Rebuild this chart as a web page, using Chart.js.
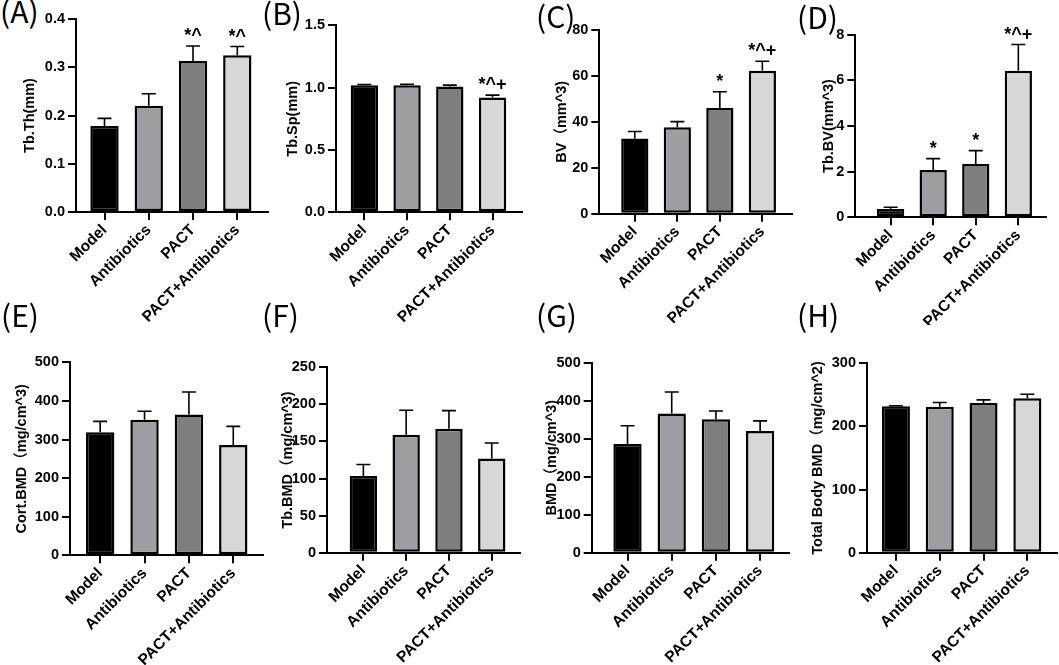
<!DOCTYPE html>
<html>
<head>
<meta charset="utf-8">
<script src="https://cdn.jsdelivr.net/npm/chart.js@4.4.1/dist/chart.umd.min.js"></script>
<style>
  html, body { margin: 0; padding: 0; background: #fff; }
  #fig { position: relative; width: 1059px; height: 665px; overflow: hidden; }
  .panel { position: absolute; }
  .tag { position: absolute; font: 400 30px 'Noto Sans CJK SC', sans-serif; line-height: 30px; color: #000; white-space: nowrap; }
</style>
</head>
<body>
<div id="fig"></div>
<script>
// groups (same order in every panel)
const categories = ['Model', 'Antibiotics', 'PACT', 'PACT+Antibiotics'];

// (A) Tb.Th
const tbTh = [0.178, 0.220, 0.313, 0.325];
const tbThErr = [0.016, 0.025, 0.031, 0.018];
const tbThMarks = ['', '', '*^', '*^'];
const tbThTicks = [0, 0.1, 0.2, 0.3, 0.4];

// (B) Tb.Sp
const tbSp = [1.02, 1.02, 1.01, 0.92];
const tbSpErr = [0.005, 0.007, 0.01, 0.02];
const tbSpMarks = ['', '', '', '*^+'];
const tbSpTicks = [0, 0.5, 1.0, 1.5];

// (C) BV
const bv = [32.8, 37.6, 46.0, 62.2];
const bvErr = [3.0, 2.5, 7.1, 4.2];
const bvMarks = ['', '', '*', '*^+'];
const bvTicks = [0, 20, 40, 60, 80];

// (D) Tb.BV
const tbBv = [0.36, 2.07, 2.33, 6.42];
const tbBvErr = [0.08, 0.5, 0.59, 1.15];
const tbBvMarks = ['', '*', '*', '*^+'];
const tbBvTicks = [0, 2, 4, 6, 8];

// (E) Cort.BMD
const cortBmd = [319, 351, 365, 286];
const cortBmdErr = [28, 22, 58, 48];
const cortBmdTicks = [0, 100, 200, 300, 400, 500];

// (F) Tb.BMD
const tbBmd = [103.5, 159, 167, 127];
const tbBmdErr = [15.5, 33, 24.6, 21];
const tbBmdTicks = [0, 50, 100, 150, 200, 250];

// (G) BMD
const bmd = [286, 366, 351, 320];
const bmdErr = [48, 57, 22, 27];
const bmdTicks = [0, 100, 200, 300, 400, 500];

// (H) Total Body BMD
const totalBmd = [232, 231, 237, 244.5];
const totalBmdErr = [0.8, 7, 5, 6.5];
const totalBmdTicks = [0, 100, 200, 300];

const noMarks = ['', '', '', ''];

const series = [
  { title: 'Tb.Th(mm)', values: tbTh, err: tbThErr, marks: tbThMarks, ticks: tbThTicks, dec: 1 },
  { title: 'Tb.Sp(mm)', values: tbSp, err: tbSpErr, marks: tbSpMarks, ticks: tbSpTicks, dec: 1 },
  { title: 'BV（mm^3)', values: bv, err: bvErr, marks: bvMarks, ticks: bvTicks, dec: 0 },
  { title: 'Tb.BV(mm^3)', values: tbBv, err: tbBvErr, marks: tbBvMarks, ticks: tbBvTicks, dec: 0 },
  { title: 'Cort.BMD（mg/cm^3)', values: cortBmd, err: cortBmdErr, marks: noMarks, ticks: cortBmdTicks, dec: 0 },
  { title: 'Tb.BMD（mg/cm^3)', values: tbBmd, err: tbBmdErr, marks: noMarks, ticks: tbBmdTicks, dec: 0 },
  { title: 'BMD（mg/cm^3)', values: bmd, err: bmdErr, marks: noMarks, ticks: bmdTicks, dec: 0 },
  { title: 'Total Body BMD（mg/cm^2)', values: totalBmd, err: totalBmdErr, marks: noMarks, ticks: totalBmdTicks, dec: 0 }
];

// page layout: canvas box [x, y, w, h], plot rect [left, top, right, bottom], y title centre, x range
const panels = [
  { tag: '(A)', tagPos: [0, -5],   box: [0, 0, 300, 325],   plot: [76, 19, 267.7, 212],      titleX: 30,    xr: [-0.644, 3.687] },
  { tag: '(B)', tagPos: [262, -3], box: [262, 0, 290, 325], plot: [336, 25.3, 522, 212.3],   titleX: 293.3, xr: [-0.663, 3.69] },
  { tag: '(C)', tagPos: [536, 0],  box: [530, 0, 270, 325], plot: [599.3, 30, 791.7, 213.7], titleX: 562,   xr: [-0.835, 3.69] },
  { tag: '(D)', tagPos: [797, 1],  box: [793, 0, 266, 325], plot: [855.3, 34.7, 1046, 217.3], titleX: 829.3, xr: [-0.83, 3.65] },
  { tag: '(E)', tagPos: [1, 299],  box: [0, 325, 300, 340], plot: [70, 362.3, 263, 555.3],   titleX: 22.3,  xr: [-0.68, 3.67] },
  { tag: '(F)', tagPos: [262, 299], box: [262, 325, 290, 340], plot: [327, 367.3, 520, 552.7], titleX: 288.3, xr: [-0.85, 3.66] },
  { tag: '(G)', tagPos: [536, 299], box: [530, 325, 270, 340], plot: [591.7, 362.7, 789.3, 552.7], titleX: 552.3, xr: [-0.81, 3.66] },
  { tag: '(H)', tagPos: [797, 299], box: [790, 325, 269, 340], plot: [867, 363.3, 1056.7, 552.7], titleX: 817.7, xr: [-0.66, 3.67] }
];

const barColors = ['#000000', '#9e9ea2', '#7e7e7e', '#d7d7d7'];
const family = "'Liberation Sans', Arial, 'Noto Sans CJK SC', sans-serif";
Chart.defaults.color = '#000';

// error bars (upper side only) and significance marks
const errorBars = {
  id: 'errorBars',
  afterDatasetsDraw(chart, args, opts) {
    const { ctx } = chart;
    const x = chart.scales.x, y = chart.scales.y;
    const data = chart.data.datasets[0].data;
    ctx.save();
    ctx.strokeStyle = '#000';
    ctx.lineWidth = 1.6;
    ctx.fillStyle = '#000';
    ctx.font = 'bold 18px ' + family;
    ctx.textAlign = 'center';
    ctx.textBaseline = 'alphabetic';
    data.forEach((d, i) => {
      const px = x.getPixelForValue(d.x);
      const base = y.getPixelForValue(d.y);
      const top = y.getPixelForValue(d.y + opts.err[i]);
      ctx.beginPath();
      ctx.moveTo(px, base);
      ctx.lineTo(px, top);
      ctx.moveTo(px - 7, top);
      ctx.lineTo(px + 7, top);
      ctx.stroke();
      if (opts.marks[i]) ctx.fillText(opts.marks[i], px, top - 5);
    });
    ctx.restore();
  }
};

const fig = document.getElementById('fig');

panels.forEach((p, k) => {
  const s = series[k];
  const [x0, y0, w, h] = p.box;
  const [l, t, r, b] = p.plot;

  const tag = document.createElement('div');
  tag.className = 'tag';
  tag.textContent = p.tag;
  tag.style.left = p.tagPos[0] + 'px';
  tag.style.top = p.tagPos[1] + 'px';
  fig.appendChild(tag);

  const wrap = document.createElement('div');
  wrap.className = 'panel';
  wrap.style.left = x0 + 'px';
  wrap.style.top = y0 + 'px';
  wrap.style.width = w + 'px';
  wrap.style.height = h + 'px';
  const cv = document.createElement('canvas');
  cv.width = w;
  cv.height = h;
  wrap.appendChild(cv);
  fig.appendChild(wrap);

  const axisGrid = { drawOnChartArea: false, drawTicks: true, tickLength: 8, color: '#000', lineWidth: 2, offset: false };
  const axisBorder = { display: true, color: '#000', width: 2 };

  new Chart(cv, {
    type: 'bar',
    data: {
      datasets: [{
        data: s.values.map((v, i) => ({ x: i, y: v })),
        backgroundColor: barColors,
        borderColor: '#000',
        borderWidth: 2.5,
        borderSkipped: false,
        barPercentage: 0.64,
        categoryPercentage: 1
      }]
    },
    options: {
      responsive: false,
      animation: false,
      events: [],
      layout: { padding: { left: 0, top: t - y0, right: x0 + w - r, bottom: 0 } },
      plugins: {
        legend: { display: false },
        tooltip: { enabled: false },
        errorBars: { err: s.err, marks: s.marks }
      },
      scales: {
        x: {
          type: 'linear',
          offset: false,
          min: p.xr[0],
          max: p.xr[1],
          afterBuildTicks: sc => { sc.ticks = categories.map((c, i) => ({ value: i })); },
          afterFit: sc => { sc.height = y0 + h - b; },
          ticks: {
            callback: v => categories[v],
            autoSkip: false,
            minRotation: 45,
            maxRotation: 45,
            padding: 1,
            color: '#000',
            font: { family, size: 15.5, weight: 'bold' }
          },
          grid: axisGrid,
          border: axisBorder
        },
        y: {
          min: 0,
          max: s.ticks[s.ticks.length - 1],
          afterBuildTicks: sc => { sc.ticks = s.ticks.map(v => ({ value: v })); },
          afterFit: sc => { sc.width = l - x0; },
          ticks: {
            callback: v => Number(v).toFixed(s.dec),
            padding: 3,
            color: '#000',
            font: { family, size: 14.5, weight: 'bold' }
          },
          title: {
            display: true,
            text: s.title,
            color: '#000',
            font: { family, size: 14.5, weight: 'bold' },
            padding: { top: p.titleX - x0 - 8.7, bottom: 0 }
          },
          grid: axisGrid,
          border: axisBorder
        }
      }
    },
    plugins: [errorBars]
  });
});
</script>
</body>
</html>
